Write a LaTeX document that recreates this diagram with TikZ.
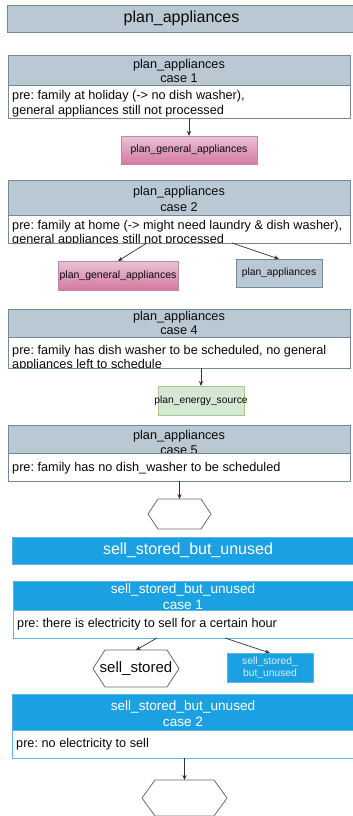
\documentclass[tikz,border=0pt]{standalone}
\usepackage{fontspec}
\setmainfont{Liberation Sans}
\usetikzlibrary{arrows.meta}
\frenchspacing

\definecolor{slate}{HTML}{BAC8D3}
\definecolor{slateline}{HTML}{7389A0}
\definecolor{pinktop}{HTML}{E9C3D6}
\definecolor{pinkbot}{HTML}{D5799F}
\definecolor{pinkline}{HTML}{C08AA6}
\definecolor{leaf}{HTML}{D5E8D4}
\definecolor{leafline}{HTML}{A3CA8F}
\definecolor{sky}{HTML}{1BA1E2}
\definecolor{skyline}{HTML}{5DB5E5}
\definecolor{skytext}{HTML}{D8EEFA}
\definecolor{hexline}{HTML}{6A6A6A}
\definecolor{ink}{HTML}{0A0A0A}
\definecolor{wire}{HTML}{333333}

% outline of a hexagon laid over a (blank) rectangular node
\newcommand\hexoutline[2]{%
  \draw[hexedge] ([xshift=#2]#1.north west) -- ([xshift=-#2]#1.north east)
    -- (#1.east) -- ([xshift=-#2]#1.south east) -- ([xshift=#2]#1.south west)
    -- (#1.west) -- cycle;}

\begin{document}
\begin{tikzpicture}[x=1pt,y=-1pt,
  box/.style={rectangle, inner sep=0pt, outer sep=0pt, anchor=north west, line width=0.9pt},
  slatebox/.style={box, fill=slate, draw=slateline},
  skybox/.style={box, fill=sky, draw=skyline},
  whitebox/.style={box, fill=white, draw=#1},
  pinkbox/.style={box, top color=pinktop, bottom color=pinkbot, draw=pinkline,
    text=ink, font=\fontsize{10.5}{12}\selectfont},
  leafbox/.style={box, fill=leaf, draw=leafline, text=ink, font=\fontsize{10.3}{12}\selectfont},
  greybox/.style={box, fill=slate, draw=slateline, text=ink, font=\fontsize{10.3}{12}\selectfont},
  headtxt/.style={inner sep=0pt, align=center, text=ink, font=\fontsize{12.7}{#1}\selectfont},
  skyhead/.style={inner sep=0pt, align=center, text=white, font=\fontsize{13.6}{#1}\selectfont},
  bodytxt/.style={inner sep=0pt, anchor=west, align=left, text=ink, font=\fontsize{12.7}{14.5}\selectfont},
  hexnode/.style={box, draw=none},
  hexedge/.style={draw=hexline, line width=0.8pt},
  frame/.style={draw=#1, line width=0.9pt},
  arr/.style={draw=wire, line width=0.7pt, -{Stealth[length=5pt,width=4.2pt]}}
]
\useasboundingbox (0,0) rectangle (353,816);
\clip (0,0) rectangle (353,816);

% ---------------- plan_appliances ----------------
\node[slatebox, minimum width=349pt, minimum height=27pt, text=ink,
  font=\fontsize{16}{18}\selectfont] (ptitle) at (7,5) {plan\_appliances};

% case 1
\node[slatebox, minimum width=342pt, minimum height=30pt] (c1h) at (8,55) {};
\node[headtxt=13.5] (c1ht) at (179,71) {plan\_appliances\\case 1};
\node[whitebox=slateline, minimum width=342pt, minimum height=33pt] (c1b) at (8,85) {};
\begin{scope}
  \clip (c1b.north west) rectangle (c1b.south east);
  \node[bodytxt] (c1bt) at (12,103.5) {pre: family at holiday (-> no dish washer),\\general appliances still not processed};
\end{scope}
\draw[frame=slateline] (c1b.north west) rectangle (c1b.south east);

\node[pinkbox, minimum width=136pt, minimum height=28pt] (pg1) at (121,136) {plan\_general\_appliances};
\draw[arr] (c1b.south -| pg1.north) -- (pg1.north);

% case 2
\node[slatebox, minimum width=342pt, minimum height=35pt] (c2h) at (8,180) {};
\node[headtxt=16] (c2ht) at (179,199) {plan\_appliances\\case 2};
\node[whitebox=slateline, minimum width=342pt, minimum height=28pt] (c2b) at (8,215) {};
\begin{scope}
  \clip (c2b.north west) rectangle (c2b.south east);
  \node[bodytxt] (c2bt) at (12,233) {pre: family at home (-> might need laundry \& dish washer),\\general appliances still not processed};
\end{scope}
\draw[frame=slateline] (c2b.north west) rectangle (c2b.south east);

\node[pinkbox, minimum width=120pt, minimum height=29pt] (pg2) at (58,261) {plan\_general\_appliances};
\node[greybox, minimum width=86pt, minimum height=28pt] (pa2) at (236,259) {plan\_appliances};
\draw[arr] ([xshift=-32pt]c2b.south) -- (pg2.north);
\draw[arr] ([xshift=53pt]c2b.south) -- (pa2.north);

% case 4
\node[slatebox, minimum width=342pt, minimum height=28pt] (c4h) at (8,309) {};
\node[headtxt=14.5] (c4ht) at (179,323) {plan\_appliances\\case 4};
\node[whitebox=slateline, minimum width=342pt, minimum height=31pt] (c4b) at (8,337) {};
\begin{scope}
  \clip (c4b.north west) rectangle (c4b.south east);
  \node[bodytxt] (c4bt) at (12,358) {pre: family has dish washer to be scheduled, no general\\appliances left to schedule};
\end{scope}
\draw[frame=slateline] (c4b.north west) rectangle (c4b.south east);

\node[leafbox, minimum width=86pt, minimum height=29pt] (pe4) at (158,386) {\makebox[0pt]{plan\_energy\_source}};
\draw[arr] (c4b.south -| pe4.north) -- (pe4.north);

% case 5
\node[slatebox, minimum width=342pt, minimum height=28pt] (c5h) at (8,425) {};
\begin{scope}
  \clip (c5h.north west) rectangle (c5h.south east);
  \node[headtxt=15] (c5ht) at (179,442) {plan\_appliances\\case 5};
\end{scope}
\node[whitebox=slateline, minimum width=342pt, minimum height=28pt] (c5b) at (8,453) {};
\node[bodytxt] (c5bt) at (12,468.5) {pre: family has no dish\_washer to be scheduled};

\node[hexnode, minimum width=63pt, minimum height=30pt] (hx1) at (148,499) {};
\hexoutline{hx1}{10pt}
\draw[arr] (c5b.south -| hx1.north) -- (hx1.north);

% ---------------- sell_stored_but_unused ----------------
\node[skybox, minimum width=344pt, minimum height=27pt, text=white,
  font=\fontsize{16}{18}\selectfont] (stitle) at (12,537) {\hspace*{8pt}sell\_stored\_but\_unused};

% case 1
\node[skybox, minimum width=343pt, minimum height=29pt] (s1h) at (13,581) {};
\begin{scope}
  \clip (s1h.north west) rectangle (s1h.south east);
  \node[skyhead=16] (s1ht) at (183,597) {sell\_stored\_but\_unused\\case 1};
\end{scope}
\node[whitebox=skyline, minimum width=343pt, minimum height=28pt] (s1b) at (13,610) {};
\node[bodytxt] (s1bt) at (17,624.5) {pre: there is electricity to sell for a certain hour};

\node[hexnode, minimum width=86pt, minimum height=37pt,
  font=\fontsize{15}{17}\selectfont, text=ink] (hx2) at (93,650) {sell\_stored};
\hexoutline{hx2}{12pt}
\node[box, fill=sky, draw=skyline, minimum width=86pt, minimum height=29pt, align=center,
  text=skytext, font=\fontsize{10.3}{12}\selectfont] (sb1) at (227,653) {sell\_stored\_\\but\_unused};
\draw[arr] ([xshift=-27.5pt]s1b.south) -- (hx2.north);
\draw[arr] ([xshift=40.5pt]s1b.south) -- (sb1.north);

% case 2
\node[skybox, minimum width=344pt, minimum height=36pt] (s2h) at (12,694) {};
\node[skyhead=16] (s2ht) at (183,714) {sell\_stored\_but\_unused\\case 2};
\node[whitebox=skyline, minimum width=344pt, minimum height=28pt] (s2b) at (12,730) {};
\node[bodytxt] (s2bt) at (16,744.5) {pre: no electricity to sell};

\node[hexnode, minimum width=85pt, minimum height=36pt] (hx3) at (142,780) {};
\hexoutline{hx3}{13pt}
\draw[arr] (s2b.south -| hx3.north) -- (hx3.north);
\end{tikzpicture}
\end{document}
